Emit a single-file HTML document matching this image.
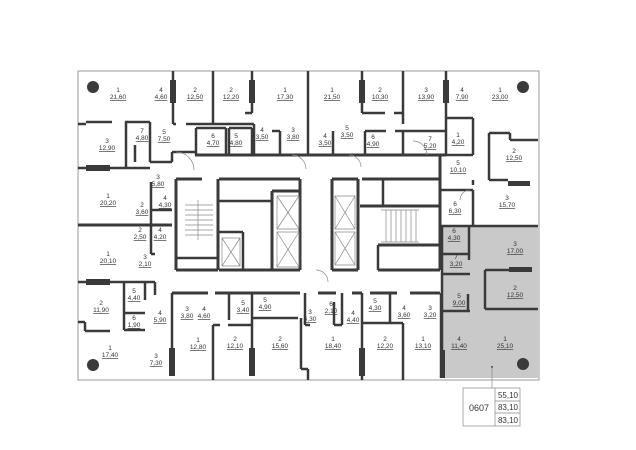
<!DOCTYPE html>
<html><head><meta charset="utf-8"><style>
html,body{margin:0;padding:0;background:#fff;width:636px;height:450px;overflow:hidden}
svg{display:block}
text{font-family:"Liberation Sans Narrow","Liberation Sans",sans-serif;font-size:6.5px;fill:#333;text-anchor:middle}
.a{text-decoration:underline}
</style></head><body>
<svg width="636" height="450" viewBox="0 0 636 450">
<rect x="442" y="226" width="96" height="152" fill="#c9c9c9"/>
<g stroke="#999" stroke-width="1" fill="none">
<rect x="78" y="71" width="461" height="309"/>
</g>
<g stroke="#3a3a3a" fill="none" stroke-width="2.5">
<line x1="173" y1="71" x2="173" y2="124"/>
<line x1="213" y1="71" x2="213" y2="124"/>
<line x1="252" y1="71" x2="252" y2="103"/>
<line x1="308" y1="71" x2="308" y2="155"/>
<line x1="362" y1="71" x2="362" y2="103"/>
<line x1="403" y1="71" x2="403" y2="124"/>
<line x1="446" y1="71" x2="446" y2="155"/>
<line x1="362" y1="103" x2="362" y2="113"/>
<line x1="362" y1="113" x2="385" y2="113"/>
<line x1="394" y1="113" x2="403" y2="113"/>
<line x1="173" y1="124" x2="176" y2="124"/>
<line x1="186" y1="124" x2="254" y2="124"/>
<line x1="252" y1="103" x2="252" y2="113"/>
<line x1="252" y1="113" x2="245" y2="113"/>
<line x1="254" y1="124" x2="254" y2="155"/>
<line x1="196" y1="128" x2="226" y2="128"/>
<line x1="196" y1="128" x2="196" y2="155"/>
<line x1="226" y1="128" x2="226" y2="155"/>
<line x1="229" y1="128" x2="252" y2="128"/>
<line x1="229" y1="128" x2="229" y2="155"/>
<line x1="252" y1="128" x2="252" y2="155"/>
<line x1="272" y1="131" x2="280" y2="131"/>
<line x1="280" y1="131" x2="280" y2="155"/>
<line x1="333" y1="131" x2="333" y2="155"/>
<line x1="365" y1="131" x2="386" y2="131"/>
<line x1="365" y1="131" x2="365" y2="155"/>
<line x1="403" y1="131" x2="403" y2="155"/>
<line x1="395" y1="131" x2="446" y2="131"/>
<line x1="446" y1="118" x2="473" y2="118"/>
<line x1="473" y1="118" x2="473" y2="155"/>
<line x1="446" y1="155" x2="473" y2="155"/>
<line x1="195" y1="155" x2="446" y2="155" stroke-width="3"/>
<line x1="78" y1="124" x2="86" y2="124"/>
<line x1="86" y1="122" x2="112" y2="122"/>
<line x1="125" y1="122" x2="150" y2="122"/>
<line x1="126" y1="122" x2="126" y2="168"/>
<line x1="150" y1="122" x2="150" y2="162"/>
<line x1="126" y1="168" x2="150" y2="168"/>
<line x1="135" y1="145" x2="135" y2="162"/>
<line x1="150" y1="162" x2="172" y2="162"/>
<line x1="172" y1="152" x2="172" y2="162"/>
<line x1="172" y1="152" x2="195" y2="152"/>
<line x1="78" y1="168" x2="126" y2="168"/>
<line x1="78" y1="225" x2="172" y2="225" stroke-width="3"/>
<line x1="151" y1="182" x2="151" y2="254"/>
<line x1="151" y1="210" x2="172" y2="210"/>
<line x1="151" y1="254" x2="155" y2="254"/>
<line x1="78" y1="282" x2="155" y2="282"/>
<line x1="155" y1="282" x2="155" y2="295"/>
<line x1="124" y1="282" x2="124" y2="330"/>
<line x1="124" y1="330" x2="145" y2="330"/>
<line x1="124" y1="313" x2="145" y2="313"/>
<line x1="145" y1="282" x2="145" y2="300"/>
<line x1="78" y1="322" x2="85" y2="322"/>
<line x1="85" y1="322" x2="85" y2="331"/>
<line x1="85" y1="331" x2="110" y2="331"/>
<line x1="176" y1="179" x2="202" y2="179" stroke-width="3"/>
<line x1="176" y1="179" x2="176" y2="270" stroke-width="3"/>
<line x1="218" y1="179" x2="218" y2="270" stroke-width="3"/>
<line x1="176" y1="258" x2="218" y2="258"/>
<line x1="176" y1="270" x2="218" y2="270" stroke-width="3"/>
<line x1="219" y1="179" x2="300" y2="179" stroke-width="3"/>
<line x1="300" y1="179" x2="300" y2="270" stroke-width="3"/>
<line x1="219" y1="201" x2="273" y2="201"/>
<line x1="272" y1="191" x2="300" y2="191" stroke-width="3"/>
<line x1="272" y1="191" x2="272" y2="270" stroke-width="3"/>
<line x1="219" y1="232" x2="243" y2="232"/>
<line x1="243" y1="232" x2="243" y2="270"/>
<line x1="219" y1="270" x2="300" y2="270" stroke-width="3"/>
<line x1="332" y1="179" x2="358" y2="179" stroke-width="3"/>
<line x1="332" y1="179" x2="332" y2="270" stroke-width="3"/>
<line x1="358" y1="179" x2="358" y2="270" stroke-width="3"/>
<line x1="332" y1="270" x2="358" y2="270" stroke-width="3"/>
<line x1="362" y1="179" x2="440" y2="179" stroke-width="3"/>
<line x1="440" y1="155" x2="440" y2="270" stroke-width="3"/>
<line x1="383" y1="179" x2="383" y2="206"/>
<line x1="360" y1="206" x2="440" y2="206" stroke-width="3"/>
<line x1="378" y1="245" x2="440" y2="245" stroke-width="3"/>
<line x1="378" y1="245" x2="378" y2="270"/>
<line x1="378" y1="270" x2="440" y2="270" stroke-width="3"/>
<line x1="489" y1="133" x2="489" y2="180"/>
<line x1="489" y1="133" x2="510" y2="133"/>
<line x1="510" y1="133" x2="510" y2="140"/>
<line x1="510" y1="140" x2="538" y2="140"/>
<line x1="489" y1="180" x2="508" y2="180"/>
<line x1="473" y1="180" x2="473" y2="185"/>
<line x1="440" y1="190" x2="473" y2="190"/>
<line x1="473" y1="190" x2="473" y2="225"/>
<line x1="440" y1="226" x2="538" y2="226" stroke-width="2.5"/>
<line x1="442" y1="226" x2="442" y2="378"/>
<line x1="469" y1="226" x2="469" y2="260"/>
<line x1="442" y1="254" x2="470" y2="254"/>
<line x1="442" y1="274" x2="470" y2="274"/>
<line x1="485" y1="270" x2="485" y2="309"/>
<line x1="485" y1="270" x2="510" y2="270"/>
<line x1="485" y1="309" x2="538" y2="309"/>
<line x1="468" y1="294" x2="468" y2="311"/>
<line x1="442" y1="311" x2="470" y2="311"/>
<line x1="172" y1="293" x2="208" y2="293" stroke-width="3"/>
<line x1="215" y1="293" x2="300" y2="293" stroke-width="3"/>
<line x1="318" y1="293" x2="336" y2="293" stroke-width="3"/>
<line x1="352" y1="293" x2="362" y2="293" stroke-width="3"/>
<line x1="370" y1="293" x2="397" y2="293" stroke-width="3"/>
<line x1="410" y1="293" x2="440" y2="293" stroke-width="3"/>
<line x1="172" y1="293" x2="172" y2="348"/>
<line x1="213" y1="325" x2="213" y2="380"/>
<line x1="213" y1="325" x2="220" y2="325"/>
<line x1="228" y1="325" x2="252" y2="325"/>
<line x1="252" y1="293" x2="252" y2="348"/>
<line x1="229" y1="293" x2="229" y2="320"/>
<line x1="252" y1="318" x2="298" y2="318"/>
<line x1="301" y1="318" x2="301" y2="369"/>
<line x1="301" y1="369" x2="308" y2="369"/>
<line x1="308" y1="369" x2="308" y2="380"/>
<line x1="305" y1="293" x2="305" y2="325"/>
<line x1="305" y1="325" x2="310" y2="325"/>
<line x1="334" y1="302" x2="334" y2="325"/>
<line x1="334" y1="325" x2="342" y2="325"/>
<line x1="342" y1="293" x2="342" y2="325"/>
<line x1="362" y1="293" x2="362" y2="380"/>
<line x1="362" y1="323" x2="403" y2="323"/>
<line x1="403" y1="323" x2="403" y2="380"/>
<line x1="390" y1="293" x2="390" y2="323"/>
<line x1="441" y1="293" x2="441" y2="378"/>
</g>
<g fill="#3a3a3a">
<rect x="170" y="80" width="6" height="23"/>
<rect x="249" y="80" width="6" height="23"/>
<rect x="359" y="80" width="6" height="23"/>
<rect x="443" y="80" width="6" height="23"/>
<rect x="86" y="165" width="24" height="6"/>
<rect x="86" y="279" width="24" height="6"/>
<rect x="169" y="348" width="6" height="28"/>
<rect x="249" y="348" width="6" height="28"/>
<rect x="359" y="348" width="6" height="28"/>
<rect x="440" y="350" width="5" height="28"/>
<rect x="508" y="181" width="22" height="5"/>
<rect x="509" y="267" width="23" height="5"/>
<circle cx="93" cy="87" r="6"/>
<circle cx="523" cy="87" r="6"/>
<circle cx="93" cy="365" r="6"/>
<circle cx="523" cy="364" r="6"/>
<circle cx="492" cy="367" r="1"/>
</g>
<g stroke="#888" stroke-width="0.7" fill="none">
<path d="M277 196 h22 v33 h-22 z M277 196 l22 33 M299 196 l-22 33"/>
<path d="M277 232 h22 v35 h-22 z M277 232 l22 35 M299 232 l-22 35"/>
<path d="M335 196 h20 v33 h-20 z M335 196 l20 33 M355 196 l-20 33"/>
<path d="M335 232 h20 v33 h-20 z M335 232 l20 33 M355 232 l-20 33"/>
<path d="M222 238 h18 v28 h-18 z M222 238 l18 28 M240 238 l-18 28"/>
<path d="M198 200 v40 M185 205 h28 M185 210 h28 M185 215 h28 M185 220 h28 M185 225 h28 M185 230 h28 M185 235 h28"/>
<path d="M381 210 h38 M381 242 h38 M386 210 v32 M391 210 v32 M396 210 v32 M401 210 v32 M406 210 v32 M411 210 v32 M416 210 v32"/>
<path d="M176 152 a18 18 0 0 1 18 18 M292 155 a14 14 0 0 1 14 14 M349 155 a12 12 0 0 1 12 12 M316 270 a12 12 0 0 1 12 12 M427 155 a14 14 0 0 0 -14 -14 M460 200 a10 10 0 0 1 10 -10"/>
<rect x="463" y="388" width="57" height="38"/>
<path d="M495 388 v38 M495 401 h25 M495 413 h25 M492 388 v-21"/>
</g>
<text x="118" y="92">1</text><text class="a" x="118" y="99">21,60</text>
<text x="161" y="92">4</text><text class="a" x="161" y="99">4,60</text>
<text x="195" y="92">2</text><text class="a" x="195" y="99">12,50</text>
<text x="231" y="92">2</text><text class="a" x="231" y="99">12,20</text>
<text x="285" y="92">1</text><text class="a" x="285" y="99">17,30</text>
<text x="332" y="92">1</text><text class="a" x="332" y="99">21,50</text>
<text x="380" y="92">2</text><text class="a" x="380" y="99">10,30</text>
<text x="426" y="92">3</text><text class="a" x="426" y="99">13,90</text>
<text x="462" y="92">4</text><text class="a" x="462" y="99">7,90</text>
<text x="500" y="92">1</text><text class="a" x="500" y="99">23,00</text>
<text x="142" y="133">7</text><text class="a" x="142" y="140">4,80</text>
<text x="164" y="134">5</text><text class="a" x="164" y="141">7,50</text>
<text x="107" y="143">3</text><text class="a" x="107" y="150">12,90</text>
<text x="213" y="138">6</text><text class="a" x="213" y="145">4,70</text>
<text x="236" y="138">5</text><text class="a" x="236" y="145">4,80</text>
<text x="262" y="132">4</text><text class="a" x="262" y="139">3,50</text>
<text x="293" y="132">3</text><text class="a" x="293" y="139">3,80</text>
<text x="325" y="138">4</text><text class="a" x="325" y="145">3,50</text>
<text x="347" y="130">5</text><text class="a" x="347" y="137">3,50</text>
<text x="373" y="139">6</text><text class="a" x="373" y="146">4,90</text>
<text x="430" y="141">7</text><text class="a" x="430" y="148">5,20</text>
<text x="458" y="137">1</text><text class="a" x="458" y="144">4,20</text>
<text x="514" y="153">2</text><text class="a" x="514" y="160">12,50</text>
<text x="458" y="165">5</text><text class="a" x="458" y="172">10,10</text>
<text x="507" y="200">3</text><text class="a" x="507" y="207">15,70</text>
<text x="455" y="206">6</text><text class="a" x="455" y="213">6,30</text>
<text x="454" y="233">6</text><text class="a" x="454" y="240">4,30</text>
<text x="158" y="179">3</text><text class="a" x="158" y="186">5,80</text>
<text x="108" y="198">1</text><text class="a" x="108" y="205">20,20</text>
<text x="142" y="207">2</text><text class="a" x="142" y="214">3,60</text>
<text x="165" y="200">4</text><text class="a" x="165" y="207">4,30</text>
<text x="140" y="232">2</text><text class="a" x="140" y="239">2,50</text>
<text x="160" y="232">4</text><text class="a" x="160" y="239">4,20</text>
<text x="108" y="256">1</text><text class="a" x="108" y="263">20,10</text>
<text x="145" y="259">3</text><text class="a" x="145" y="266">2,10</text>
<text x="134" y="293">5</text><text class="a" x="134" y="300">4,40</text>
<text x="101" y="305">2</text><text class="a" x="101" y="312">11,90</text>
<text x="160" y="315">4</text><text class="a" x="160" y="322">5,90</text>
<text x="134" y="320">6</text><text class="a" x="134" y="327">1,90</text>
<text x="110" y="350">1</text><text class="a" x="110" y="357">17,40</text>
<text x="156" y="358">3</text><text class="a" x="156" y="365">7,30</text>
<text x="187" y="311">3</text><text class="a" x="187" y="318">3,80</text>
<text x="204" y="311">4</text><text class="a" x="204" y="318">4,60</text>
<text x="243" y="305">5</text><text class="a" x="243" y="312">3,40</text>
<text x="265" y="302">5</text><text class="a" x="265" y="309">4,90</text>
<text x="198" y="342">1</text><text class="a" x="198" y="349">12,80</text>
<text x="235" y="341">2</text><text class="a" x="235" y="348">12,10</text>
<text x="280" y="341">2</text><text class="a" x="280" y="348">15,60</text>
<text x="310" y="314">3</text><text class="a" x="310" y="321">4,30</text>
<text x="331" y="306">6</text><text class="a" x="331" y="313">2,10</text>
<text x="333" y="341">1</text><text class="a" x="333" y="348">18,40</text>
<text x="353" y="315">4</text><text class="a" x="353" y="322">4,40</text>
<text x="375" y="303">5</text><text class="a" x="375" y="310">4,30</text>
<text x="404" y="310">4</text><text class="a" x="404" y="317">3,60</text>
<text x="430" y="310">3</text><text class="a" x="430" y="317">3,20</text>
<text x="385" y="341">2</text><text class="a" x="385" y="348">12,20</text>
<text x="423" y="341">1</text><text class="a" x="423" y="348">13,10</text>
<text x="456" y="259">7</text><text class="a" x="456" y="266">3,20</text>
<text x="515" y="246">3</text><text class="a" x="515" y="253">17,00</text>
<text x="515" y="290">2</text><text class="a" x="515" y="297">12,50</text>
<text x="459" y="298">5</text><text class="a" x="459" y="305">9,00</text>
<text x="459" y="341">4</text><text class="a" x="459" y="348">11,40</text>
<text x="505" y="341">1</text><text class="a" x="505" y="348">25,10</text>
<text x="479" y="411" style="font-size:9px">0607</text>
<text x="508" y="398" style="font-size:8px">55,10</text>
<text x="508" y="410" style="font-size:8px">83,10</text>
<text x="508" y="423" style="font-size:8px">83,10</text>
</svg>
</body></html>
